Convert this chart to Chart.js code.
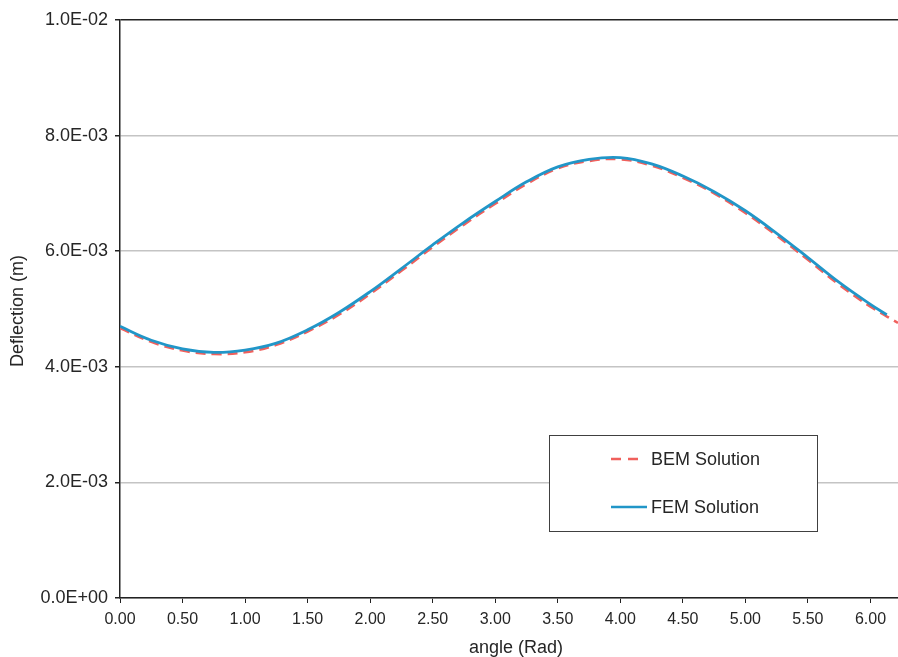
<!DOCTYPE html>
<html>
<head>
<meta charset="utf-8">
<script src="https://cdn.jsdelivr.net/npm/chart.js@4/dist/chart.umd.min.js"></script>
<style>
  body { margin: 0; background: #fff; }
  #wrap { width: 898px; height: 657px; }
</style>
</head>
<body>
<div id="wrap"><canvas id="deflChart" width="898" height="657"></canvas></div>
<script>
// values (angle in rad, deflection in m)
const bemAngles = [0.00, 0.25, 0.50, 0.75, 1.00, 1.25, 1.50, 1.75, 2.00, 2.25, 2.50, 2.75, 3.00,
                   3.25, 3.50, 3.75, 4.00, 4.25, 4.50, 4.75, 5.00, 5.25, 5.50, 5.75, 6.00, 6.22];
const bemValues = [0.00467, 0.00443, 0.00428, 0.00422, 0.00425, 0.00438, 0.00461, 0.00490, 0.00526,
                   0.00566, 0.00607, 0.00646, 0.00682, 0.00716, 0.00743, 0.00756, 0.00759, 0.00748,
                   0.00727, 0.00700, 0.00666, 0.00627, 0.00585, 0.00542, 0.00504, 0.00476];

const femAngles = [0.00, 0.25, 0.50, 0.75, 1.00, 1.25, 1.50, 1.75, 2.00, 2.25, 2.50, 2.75, 3.00,
                   3.25, 3.50, 3.75, 4.00, 4.25, 4.50, 4.75, 5.00, 5.25, 5.50, 5.75, 6.00, 6.13];
const femValues = [0.00470, 0.00446, 0.00431, 0.00425, 0.00429, 0.00441, 0.00464, 0.00494, 0.00530,
                   0.00570, 0.00611, 0.00650, 0.00686, 0.00720, 0.00746, 0.00759, 0.00762, 0.00751,
                   0.00730, 0.00703, 0.00670, 0.00631, 0.00589, 0.00546, 0.00508, 0.00490];

const xTicksStep = 0.5;
const yTicksStep = 0.002;

const textColor = '#262626';
const axisColor = '#222222';
const fontFamily = '"Liberation Sans", Arial, sans-serif';

function toPoints(xs, ys) {
    return xs.map((x, i) => ({ x: x, y: ys[i] }));
}

// 2.0E-03 style labels
function sciLabel(v) {
    if (Math.abs(v) < 1e-12) return '0.0E+00';
    const e = Math.floor(Math.log10(Math.abs(v)) + 1e-9);
    const m = v / Math.pow(10, e);
    return m.toFixed(1) + 'E' + (e < 0 ? '-' : '+') + String(Math.abs(e)).padStart(2, '0');
}

// legend box and axis titles
const decorations = {
    id: 'decorations',
    afterDraw(chart) {
        const ctx = chart.ctx;
        ctx.save();

        // legend
        ctx.fillStyle = '#ffffff';
        ctx.fillRect(549, 435, 269, 97);
        ctx.strokeStyle = '#404040';
        ctx.lineWidth = 1;
        ctx.strokeRect(549.5, 435.5, 268, 96);

        ctx.lineWidth = 2.5;
        ctx.strokeStyle = '#f0605c';
        ctx.setLineDash([10, 7]);
        ctx.beginPath();
        ctx.moveTo(611, 459);
        ctx.lineTo(638, 459);
        ctx.stroke();

        ctx.setLineDash([]);
        ctx.strokeStyle = '#2196c8';
        ctx.beginPath();
        ctx.moveTo(611, 507);
        ctx.lineTo(647, 507);
        ctx.stroke();

        ctx.fillStyle = textColor;
        ctx.font = '18px ' + fontFamily;
        ctx.textBaseline = 'middle';
        ctx.textAlign = 'left';
        ctx.fillText('BEM Solution', 651, 460);
        ctx.fillText('FEM Solution', 651, 508);

        // x title
        ctx.textAlign = 'center';
        ctx.fillText('angle (Rad)', 516, 648);

        // y title
        ctx.translate(18, 311);
        ctx.rotate(-Math.PI / 2);
        ctx.fillText('Deflection (m)', 0, 0);

        ctx.restore();
    }
};

const ctx = document.getElementById('deflChart').getContext('2d');
new Chart(ctx, {
    type: 'line',
    data: {
        datasets: [
            {
                label: 'BEM Solution',
                data: toPoints(bemAngles, bemValues),
                borderColor: '#f0605c',
                borderWidth: 2.5,
                borderDash: [10, 6],
                pointRadius: 0,
                fill: false,
                tension: 0.4,
                order: 2
            },
            {
                label: 'FEM Solution',
                data: toPoints(femAngles, femValues),
                borderColor: '#2196c8',
                borderWidth: 2.8,
                pointRadius: 0,
                fill: false,
                tension: 0.4,
                order: 1
            }
        ]
    },
    options: {
        responsive: false,
        animation: false,
        events: [],
        layout: { padding: { top: 20, right: 0, bottom: 0, left: 0 } },
        plugins: {
            legend: { display: false },
            tooltip: { enabled: false }
        },
        scales: {
            x: {
                type: 'linear',
                min: 0,
                max: 6.22,
                afterFit(scale) { scale.height = 59; },
                border: { color: axisColor, width: 1.5 },
                grid: {
                    drawOnChartArea: false,
                    drawTicks: true,
                    tickLength: 5,
                    color: axisColor,
                    tickColor: axisColor
                },
                ticks: {
                    stepSize: xTicksStep,
                    includeBounds: false,
                    maxRotation: 0,
                    autoSkip: false,
                    padding: 7,
                    color: textColor,
                    font: { family: fontFamily, size: 16 },
                    callback: (v) => v.toFixed(2)
                }
            },
            y: {
                min: 0,
                max: 0.01,
                afterFit(scale) { scale.width = 120; },
                border: { color: axisColor, width: 1.5 },
                grid: {
                    color: (c) => (c.tick && Math.abs(c.tick.value - 0.01) < 1e-9) ? axisColor : '#c4c4c4',
                    lineWidth: 1.5,
                    tickLength: 5,
                    tickColor: axisColor
                },
                ticks: {
                    stepSize: yTicksStep,
                    padding: 7,
                    color: textColor,
                    font: { family: fontFamily, size: 18 },
                    callback: (v) => sciLabel(v)
                }
            }
        }
    },
    plugins: [decorations]
});
</script>
</body>
</html>
